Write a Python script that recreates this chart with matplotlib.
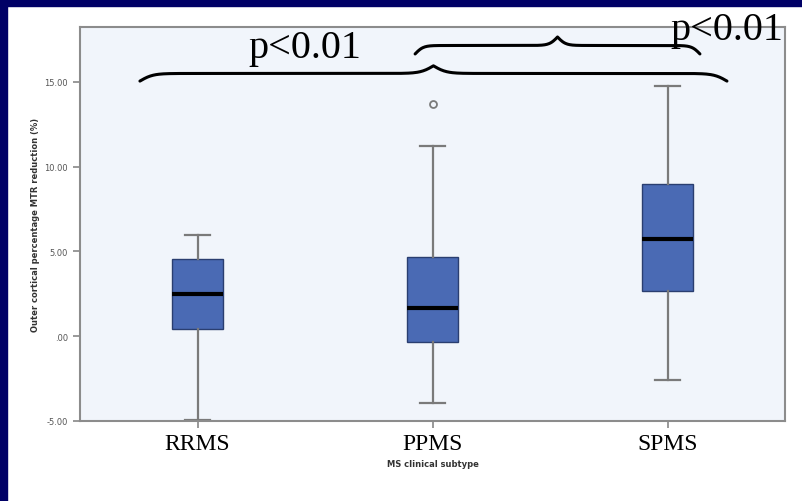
import numpy as np
import matplotlib
matplotlib.use("Agg")
import matplotlib.pyplot as plt
from matplotlib.patches import Rectangle

# data
groups = ["RRMS", "PPMS", "SPMS"]
whis_lo = [-4.95, -3.95, -2.6]
q1 = [0.45, -0.35, 2.65]
median = [2.5, 1.65, 5.75]
q3 = [4.55, 4.7, 8.95]
whis_hi = [5.95, 11.2, 14.75]
outliers = [[], [13.7], []]
yticks = [-5, 0, 5, 10, 15]
ytick_labels = ["-5.00", ".00", "5.00", "10.00", "15.00"]

W, H = 802, 502
fig = plt.figure(figsize=(W / 100, H / 100), dpi=100)
fig.patch.set_facecolor("white")
# navy slide border (left and top)
fig.patches.append(Rectangle((0, 0), 7 / W, 1, transform=fig.transFigure,
                             color="#000066", zorder=0))
fig.patches.append(Rectangle((0, 1 - 7 / H), 1, 7 / H, transform=fig.transFigure,
                             color="#000066", zorder=0))

ax = fig.add_axes([80 / W, (H - 422) / H, 705 / W, 394 / H])
ax.set_facecolor("#F1F5FB")

stats = []
for i in range(len(groups)):
    stats.append(dict(med=median[i], q1=q1[i], q3=q3[i], whislo=whis_lo[i],
                      whishi=whis_hi[i], fliers=outliers[i], label=groups[i]))

pos = np.arange(1, len(groups) + 1)
ax.bxp(stats, positions=pos, widths=0.217, patch_artist=True,
       boxprops=dict(facecolor="#4A6AB4", edgecolor="#2A3E70", linewidth=1),
       medianprops=dict(color="black", linewidth=3),
       whiskerprops=dict(color="#7A7A7A", linewidth=1.6),
       capprops=dict(color="#7A7A7A", linewidth=1.6),
       capwidths=0.11,
       flierprops=dict(marker="o", markersize=5, markerfacecolor="none",
                       markeredgecolor="#7A7A7A", markeredgewidth=1.3))

ax.set_xlim(0.5, 3.5)
ax.set_ylim(-5, 18.24)
ax.set_yticks(yticks)
ax.set_yticklabels(ytick_labels, fontsize=6, color="#555555")
ax.set_xticks(pos)
ax.set_xticklabels(groups, fontsize=17, family="Liberation Serif")
ax.tick_params(axis="both", length=5, color="#888888", width=1.2)
ax.tick_params(axis="x", pad=4)
for s in ax.spines.values():
    s.set_color("#8C8C8C")
    s.set_linewidth(1.5)

ax.set_ylabel("Outer cortical percentage MTR reduction (%)", fontsize=6,
              fontweight="bold", color="#333333", labelpad=3)
ax.set_xlabel("MS clinical subtype", fontsize=6, fontweight="bold",
              color="#333333", labelpad=3)


def brace(x0, x1, y, h, beta=60):
    # curly brace pointing up, ends curl down
    n = 200
    t = np.linspace(0, 0.5, n)
    half = 1 / (1 + np.exp(-beta * (t - 0.0))) + 1 / (1 + np.exp(-beta * (t - 0.5)))
    yy = np.concatenate([half, half[::-1][1:]]) - 0.5
    xx = np.linspace(0, 1, len(yy))
    ax.plot(x0 + xx * (x1 - x0), y + yy * h, color="black", lw=2.2,
            clip_on=False, solid_capstyle="round")


brace(0.755, 3.253, 15.05, 0.9, beta=90)
brace(1.926, 3.138, 16.65, 1.0, beta=70)

ax.text(1.457, 17.05, "p<0.01", fontsize=29, family="Liberation Serif",
        ha="center", va="center")
ax.text(3.253, 18.1, "p<0.01", fontsize=29, family="Liberation Serif",
        ha="center", va="center", clip_on=False)

fig.savefig("out.png", dpi=100)
